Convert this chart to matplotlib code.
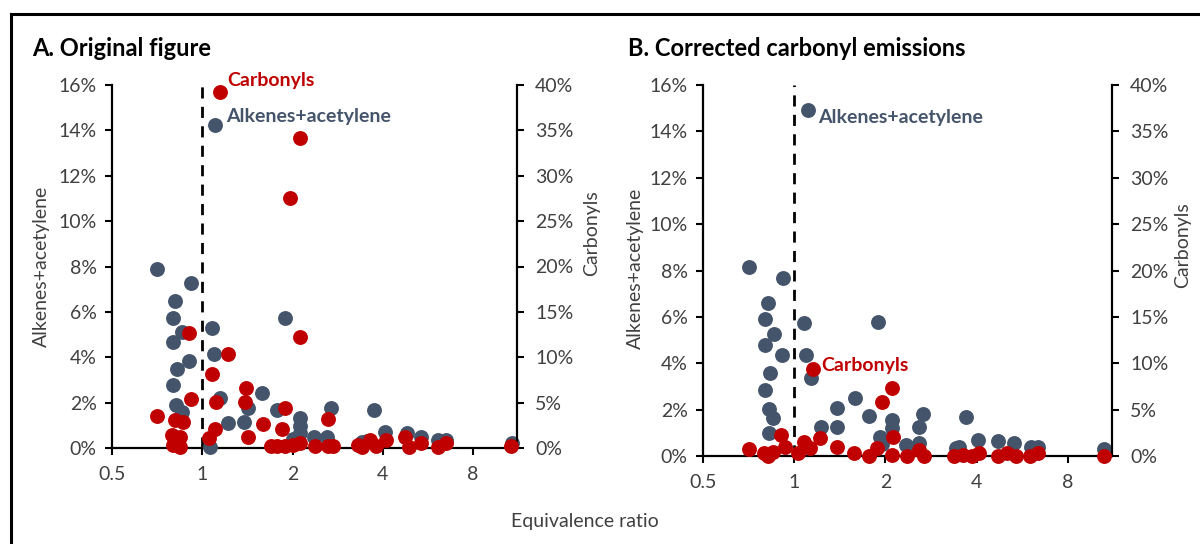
import matplotlib
matplotlib.use('Agg')
import matplotlib.pyplot as plt
from matplotlib.lines import Line2D
from matplotlib.ticker import FixedLocator, FixedFormatter, NullLocator

plt.rcParams['font.family'] = ['Lato', 'DejaVu Sans']

BLUE = '#44546A'
RED = '#C00000'

# panel A - original figure
alk_a_x = [1.10, 0.705, 0.915, 0.811, 0.80, 0.854, 0.80, 0.905, 0.826, 0.796, 0.82, 0.854,
           1.08, 1.095, 1.145, 1.22, 1.06, 1.38, 1.42, 1.58, 1.77, 1.89, 2.12, 2.12, 2.12,
           2.36, 2.6, 2.68, 3.41, 3.74, 4.08, 4.80, 5.38, 6.12, 6.50, 10.8, 3.55, 2.0]
alk_a_y = [14.23, 7.87, 7.28, 6.48, 5.71, 5.12, 4.68, 3.83, 3.47, 2.78, 1.89, 1.60,
           5.30, 4.14, 2.19, 1.09, 0.06, 1.16, 1.75, 2.44, 1.67, 5.71, 1.31, 0.95, 0.65,
           0.50, 0.50, 1.75, 0.28, 1.67, 0.72, 0.65, 0.50, 0.35, 0.35, 0.2, 0.3, 0.4]
carb_a_x = [1.145, 2.12, 1.96, 0.905, 2.12, 1.22, 1.08, 1.40, 1.39, 1.11, 0.915, 0.705,
            1.89, 2.62, 0.81, 0.86, 1.59, 1.85, 1.10, 0.79, 0.84, 1.05, 1.42, 0.84, 0.80,
            1.69, 1.89, 2.12, 2.38, 2.62, 2.72, 3.41, 3.63, 4.1, 3.8, 4.74, 4.87, 5.38,
            6.12, 6.5, 10.7, 1.78, 2.0, 3.3]
carb_a_y = [39.2, 34.2, 27.6, 12.7, 12.2, 10.4, 8.2, 6.6, 5.1, 5.1, 5.4, 3.5,
            4.4, 3.2, 3.1, 2.9, 2.6, 2.1, 2.1, 1.4, 1.2, 1.1, 1.2, 0.15, 0.3,
            0.2, 0.2, 0.5, 0.2, 0.2, 0.2, 0.15, 0.9, 0.9, 0.2, 1.2, 0.15, 0.5,
            0.15, 0.5, 0.2, 0.2, 0.3, 0.3]

# panel B - corrected carbonyl emissions
alk_b_x = [1.107, 0.708, 0.92, 0.818, 0.804, 0.859, 0.804, 0.91, 0.83, 0.80, 0.826, 0.85,
           0.826, 1.08, 1.096, 1.14, 1.23, 1.38, 1.38, 1.59, 1.77, 1.89, 2.11, 2.11, 1.92,
           1.95, 2.34, 2.58, 2.59, 2.66, 3.41, 3.5, 3.69, 4.03, 4.7, 5.3, 6.04, 6.4, 10.5]
alk_b_y = [14.91, 8.13, 7.66, 6.58, 5.89, 5.26, 4.78, 4.35, 3.56, 2.84, 2.01, 1.62,
           0.98, 5.72, 4.35, 3.35, 1.26, 2.05, 1.26, 2.51, 1.72, 5.79, 1.55, 1.19, 0.83,
           0.5, 0.47, 0.55, 1.26, 1.81, 0.33, 0.4, 1.67, 0.69, 0.66, 0.55, 0.4, 0.4, 0.29]
carb_b_x = [1.15, 2.11, 1.95, 2.12, 0.905, 1.22, 1.08, 1.38, 0.708, 0.792, 0.822, 0.85,
            0.93, 1.03, 1.13, 1.58, 1.76, 1.88, 2.1, 2.35, 2.58, 2.68, 3.36, 3.62, 3.87,
            4.07, 4.7, 5.05, 5.38, 6.0, 6.4, 10.5]
carb_b_y = [9.34, 7.3, 5.85, 2.1, 2.26, 1.9, 1.5, 1.0, 0.72, 0.29, 0.0, 0.46,
            1.0, 0.29, 0.83, 0.36, 0.0, 0.83, 0.1, 0.0, 0.65, 0.0, 0.0, 0.1, 0.0,
            0.29, 0.0, 0.29, 0.0, 0.0, 0.29, 0.0]

x_ticks = [0.5, 1, 2, 4, 8]
x_labels = ['0.5', '1', '2', '4', '8']
left_ticks = [0, 2, 4, 6, 8, 10, 12, 14, 16]
right_ticks = [0, 5, 10, 15, 20, 25, 30, 35, 40]

fig = plt.figure(figsize=(12, 5.44), dpi=100)

# border of the figure (only top and left edges are visible)
bx = 11 / 1200
by = 1 - 14 / 544
fig.add_artist(Line2D([bx, 1], [by, by], color='black', lw=2.2, transform=fig.transFigure))
fig.add_artist(Line2D([bx, bx], [0, by], color='black', lw=2.2, transform=fig.transFigure))

DOT = 115


def style(ax):
    ax.spines['top'].set_visible(False)
    for s in ['left', 'right', 'bottom']:
        ax.spines[s].set_linewidth(1.6)
    ax.tick_params(direction='out', length=5, width=1.5, labelsize=14,
                   colors='black', labelcolor='#404040', pad=6)


def panel(rect, ax_x, ax_y, cx, cy):
    ax = fig.add_axes(rect)
    ax.set_xscale('log', base=2)
    ax.set_xlim(0.5, 11.2)
    ax.set_ylim(0, 16)
    ax.axvline(1, color='black', lw=2, ls=(0, (4, 3)), zorder=1)
    ax.scatter(ax_x, ax_y, s=DOT, color=BLUE, zorder=3, clip_on=False, linewidths=0)
    ax.xaxis.set_major_locator(FixedLocator(x_ticks))
    ax.xaxis.set_major_formatter(FixedFormatter(x_labels))
    ax.xaxis.set_minor_locator(NullLocator())
    ax.set_yticks(left_ticks)
    ax.set_yticklabels([f'{t}%' for t in left_ticks])
    ax.spines['right'].set_visible(False)
    style(ax)
    ax.tick_params(axis='x', pad=8)

    ax2 = ax.twinx()
    ax2.set_ylim(0, 40)
    ax2.scatter(cx, cy, s=DOT, color=RED, zorder=4, clip_on=False, linewidths=0)
    ax2.set_yticks(right_ticks)
    ax2.set_yticklabels([f'{t}%' for t in right_ticks])
    ax2.spines['left'].set_visible(False)
    ax2.spines['bottom'].set_visible(False)
    style(ax2)
    ax2.tick_params(axis='y', pad=8)
    return ax, ax2


axA, axA2 = panel([112 / 1200, 1 - 448 / 544, 405 / 1200, 363 / 544],
                  alk_a_x, alk_a_y, carb_a_x, carb_a_y)
axB, axB2 = panel([703 / 1200, 1 - 456 / 544, 409 / 1200, 371 / 544],
                  alk_b_x, alk_b_y, carb_b_x, carb_b_y)

lab = dict(fontsize=14, fontweight='bold', textcoords='offset pixels', va='center', ha='left')
axA2.annotate('Carbonyls', xy=(carb_a_x[0], carb_a_y[0]), xytext=(7, 12), color=RED, **lab)
axA.annotate('Alkenes+acetylene', xy=(alk_a_x[0], alk_a_y[0]), xytext=(11, 9), color=BLUE, **lab)
axB.annotate('Alkenes+acetylene', xy=(alk_b_x[0], alk_b_y[0]), xytext=(11, -7), color=BLUE, **lab)
axB2.annotate('Carbonyls', xy=(carb_b_x[0], carb_b_y[0]), xytext=(9, 4), color=RED, **lab)

# titles and axis labels
fig.text(32 / 1200, 1 - 48 / 544, 'A. Original figure', fontsize=17, fontweight='bold',
         va='center', ha='left')
fig.text(628 / 1200, 1 - 48 / 544, 'B. Corrected carbonyl emissions', fontsize=17,
         fontweight='bold', va='center', ha='left')
yl = dict(fontsize=14, rotation=90, va='center', ha='center', color='#404040')
fig.text(41 / 1200, 1 - 266 / 544, 'Alkenes+acetylene', **yl)
fig.text(592 / 1200, 1 - 233 / 544, 'Carbonyls', **yl)
fig.text(635 / 1200, 1 - 268 / 544, 'Alkenes+acetylene', **yl)
fig.text(1183 / 1200, 1 - 245 / 544, 'Carbonyls', **yl)
fig.text(585 / 1200, 1 - 521 / 544, 'Equivalence ratio', fontsize=14, va='center',
         ha='center', color='#404040')

fig.savefig('out.png', dpi=100)
